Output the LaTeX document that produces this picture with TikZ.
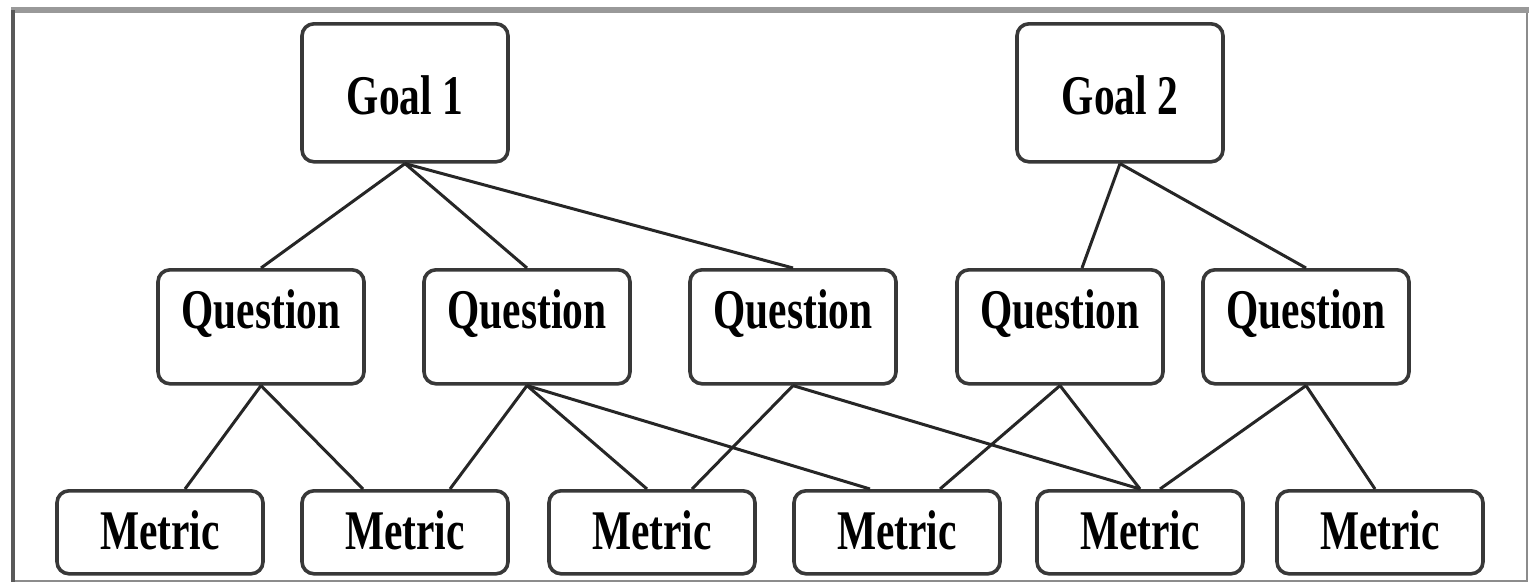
\documentclass[tikz,border=0pt]{standalone}
\usepackage{fontspec}
\setmainfont{Liberation Serif}
\usepackage{graphicx}
\begin{document}
\begin{tikzpicture}[x=0.5pt,y=-0.5pt,
  box/.style={draw=black!78, line width=1.8pt, rounded corners=6pt, inner sep=0pt,
    minimum width=103pt, anchor=north, fill=white,
    font=\fontsize{28}{30}\selectfont\bfseries},
  goalbox/.style={box, text height=45.5pt, text depth=23.5pt},
  qbox/.style={box, text height=29.5pt, text depth=27.5pt},
  mbox/.style={box, text height=29.5pt, text depth=12pt},
  link/.style={draw=black!85, line width=1.5pt}]
\useasboundingbox (0,0) rectangle (1536,584);
% frame
\draw[black!45, line width=1.4pt] (13,11) rectangle (1527,581);
\draw[black!40, line width=2.6pt] (11,10) -- (1529,10);
\draw[black!65, line width=1.6pt] (13,10) -- (13,582);
% goals
\node[goalbox] (g1) at (405,22) {\scalebox{0.74}[1]{Goal 1}};
\node[goalbox] (g2) at (1120,22) {\scalebox{0.74}[1]{Goal 2}};
% questions
\node[qbox] (q1) at (261,268) {\scalebox{0.74}[1]{Question}};
\node[qbox] (q2) at (527,268) {\scalebox{0.74}[1]{Question}};
\node[qbox] (q3) at (793,268) {\scalebox{0.74}[1]{Question}};
\node[qbox] (q4) at (1060,268) {\scalebox{0.74}[1]{Question}};
\node[qbox] (q5) at (1306,268) {\scalebox{0.74}[1]{Question}};
% metrics
\node[mbox] (m1) at (160,489) {\scalebox{0.74}[1]{Metric}};
\node[mbox] (m2) at (405,489) {\scalebox{0.74}[1]{Metric}};
\node[mbox] (m3) at (652,489) {\scalebox{0.74}[1]{Metric}};
\node[mbox] (m4) at (897,489) {\scalebox{0.74}[1]{Metric}};
\node[mbox] (m5) at (1140,489) {\scalebox{0.74}[1]{Metric}};
\node[mbox] (m6) at (1380,489) {\scalebox{0.74}[1]{Metric}};
% goal -> question
\draw[link] (g1.south) -- (q1.north);
\draw[link] (g1.south) -- (q2.north);
\draw[link] (g1.south) -- (q3.north);
\draw[link] (g2.south) -- ([xshift=11pt]q4.north);
\draw[link] (g2.south) -- (q5.north);
% question -> metric
\draw[link] (q1.south) -- ([xshift=12.5pt]m1.north);
\draw[link] (q1.south) -- ([xshift=-21pt]m2.north);
\draw[link] (q2.south) -- ([xshift=22.5pt]m2.north);
\draw[link] (q2.south) -- ([xshift=-2.5pt]m3.north);
\draw[link] (q2.south) -- ([xshift=-13.5pt]m4.north);
\draw[link] (q3.south) -- ([xshift=20pt]m3.north);
\draw[link] (q3.south) -- (m5.north);
\draw[link] (q4.south) -- ([xshift=21.5pt]m4.north);
\draw[link] (q4.south) -- (m5.north);
\draw[link] (q5.south) -- ([xshift=10pt]m5.north);
\draw[link] (q5.south) -- ([xshift=-2.5pt]m6.north);
\end{tikzpicture}
\end{document}
